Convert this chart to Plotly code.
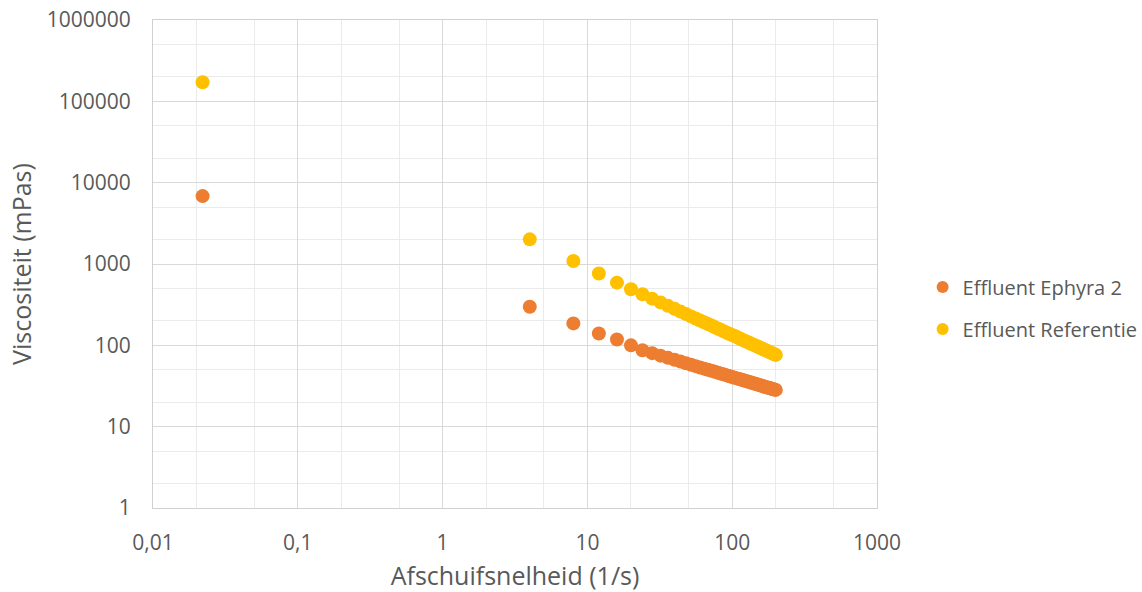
import plotly.graph_objects as go

shear_rate = [0.022, 4, 8, 12, 16, 20, 24, 28, 32, 36, 40, 44, 48, 52, 56, 60, 64, 68, 72, 76,
              80, 84, 88, 92, 96, 100, 104, 108, 112, 116, 120, 124, 128, 132, 136, 140,
              144, 148, 152, 156, 160, 164, 168, 172, 176, 180, 184, 188, 192, 196, 200]

ephyra2 = [6840, 298, 186, 140, 118, 100, 87, 80.2, 74.7, 70.2, 66.4, 63.1, 60.3, 57.7, 55.5,
           53.5, 51.7, 50.1, 48.6, 47.2, 46.0, 44.8, 43.7, 42.7, 41.7, 40.8, 40.0, 39.2, 38.5,
           37.7, 37.1, 36.4, 35.8, 35.3, 34.7, 34.2, 33.7, 33.2, 32.7, 32.3, 31.8, 31.4, 31.0,
           30.6, 30.3, 29.9, 29.6, 29.2, 28.9, 28.6, 28.3]

referentie = [172000, 2010, 1090, 765, 590, 490, 425, 375, 337, 306, 281, 260, 242, 227, 214,
              202, 192, 183, 175, 167, 160, 154, 148, 143, 138, 134, 130, 126, 122, 119, 115,
              112, 110, 107, 104, 102, 99.6, 97.4, 95.3, 93.3, 91.4, 89.6, 87.9, 86.2, 84.6,
              83.1, 81.6, 80.2, 78.9, 77.6, 76.3]

x_tickvals = [0.01, 0.1, 1, 10, 100, 1000]
x_ticktext = ["0,01", "0,1", "1", "10", "100", "1000"]
y_tickvals = [1, 10, 100, 1000, 10000, 100000, 1000000]
y_ticktext = ["1", "10", "100", "1000", "10000", "100000", "1000000"]

font_family = "Open Sans"
text_color = "#595959"

fig = go.Figure()
fig.add_trace(go.Scatter(x=shear_rate, y=ephyra2, mode="markers", name="Effluent Ephyra 2",
                         legendgroup="g1",
                         marker=dict(color="#ED7D31", size=14)))
fig.add_trace(go.Scatter(x=shear_rate, y=referentie, mode="markers", name="Effluent Referentie",
                         legendgroup="g2",
                         marker=dict(color="#FFC000", size=14)))

axis_common = dict(
    type="log", automargin=False,
    showline=True, linecolor="#d0d0d0", linewidth=1, mirror=True,
    showgrid=True, gridcolor="#d9d9d9", gridwidth=1,
    minor=dict(showgrid=True, gridcolor="#ebebeb", gridwidth=1),
    zeroline=False, ticks="",
    tickfont=dict(family=font_family, size=21, color=text_color),
)

fig.update_xaxes(**axis_common, range=[-2, 3], tickvals=x_tickvals, ticktext=x_ticktext,
                 ticklabelstandoff=16,
                 title=dict(text="Afschuifsnelheid (1/s)", standoff=14,
                            font=dict(family=font_family, size=25, color=text_color)))
fig.update_yaxes(**axis_common, range=[0, 6], tickvals=y_tickvals, ticktext=y_ticktext,
                 ticklabelstandoff=17,
                 title=dict(text="Viscositeit (mPas)", standoff=7,
                            font=dict(family=font_family, size=25, color=text_color)))

fig.update_layout(
    width=1142, height=592, autosize=False,
    margin=dict(l=153, r=265, t=20, b=84, autoexpand=False),
    paper_bgcolor="white", plot_bgcolor="white",
    font=dict(family=font_family, color=text_color),
    legend=dict(x=1.063, y=0.41, xanchor="left", yanchor="middle",
                font=dict(family=font_family, size=20, color=text_color),
                itemsizing="constant", tracegroupgap=13),
)

post_js = (
    "document.body.style.margin='0';"
    "document.body.style.padding='0';"
    "document.body.style.overflow='hidden';"
    "document.documentElement.style.overflow='hidden';"
    "var gd=document.getElementById('{plot_id}');"
    "Plotly.relayout(gd,{width:1142,height:592});"
)

fig.write_html("out.html", config={"responsive": False, "displayModeBar": False},
               post_script=post_js)
